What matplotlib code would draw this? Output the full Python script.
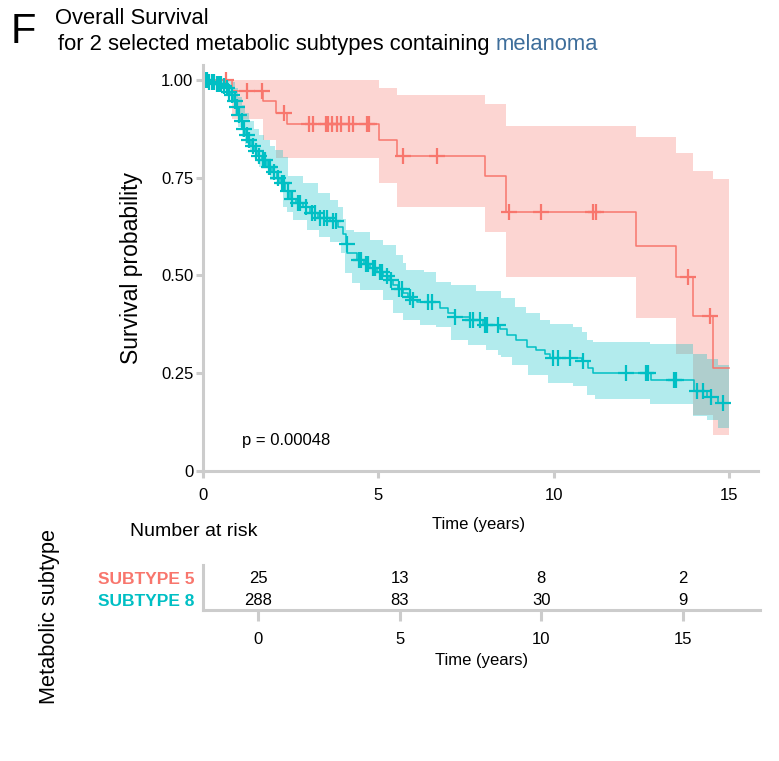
"""Kaplan-Meier curves for metabolic subtypes 5 and 8 (melanoma)"""

import numpy as np
import matplotlib

matplotlib.use("Agg")
import matplotlib.pyplot as plt

plt.rcParams["font.family"] = ["Liberation Sans", "DejaVu Sans"]

# ---- data ----
groups = ["SUBTYPE 5", "SUBTYPE 8"]
colors = ["#F8766D", "#00BFC4"]

# subtype 5: step curve (time in years, survival)
s5_time = [0, 0.82, 1.71, 2.08, 2.39, 5.02, 5.53, 8.05, 8.63, 12.34, 13.48, 13.98, 14.55, 15.0]
s5_surv = [1.0, 0.972, 0.945, 0.916, 0.887, 0.846, 0.806, 0.754, 0.661, 0.576, 0.497, 0.395, 0.263, 0.263]
s5_up_time = [0, 5.02, 5.53, 8.05, 8.63, 12.34, 13.48, 13.98, 14.55, 15.0]
s5_up = [1.0, 0.98, 0.962, 0.939, 0.881, 0.853, 0.813, 0.767, 0.747, 0.747]
s5_lo_time = [0, 0.82, 1.71, 2.08, 2.39, 5.02, 5.53, 8.05, 8.63, 12.34, 13.48, 13.98, 14.55, 15.0]
s5_lo = [1.0, 0.90, 0.845, 0.80, 0.80, 0.737, 0.675, 0.612, 0.497, 0.392, 0.30, 0.143, 0.092, 0.092]
s5_censor = [0.65, 1.25, 1.68, 2.31, 3.02, 3.14, 3.51, 3.56, 3.68, 3.82, 3.94, 4.16,
             4.28, 4.68, 4.73, 5.7, 6.67, 8.73, 9.64, 11.12, 11.2, 13.83, 14.46]

# subtype 8
s8_time = [0, 0.15, 0.35, 0.55, 0.63, 0.72, 0.8, 0.86, 0.93, 1.0, 1.07, 1.14, 1.21,
           1.28, 1.38, 1.48, 1.57, 1.67, 1.82, 1.96, 2.1, 2.2, 2.35, 2.48, 2.65, 2.85,
           3.05, 3.28, 3.62, 3.85, 4.0, 4.08, 4.12, 4.38, 4.6, 4.76, 4.95, 5.13, 5.3,
           5.42, 5.55, 5.7, 5.85, 5.95, 6.1, 6.76, 7.0, 7.19, 7.61, 7.98, 8.47, 8.66,
           8.94, 9.23, 9.51, 9.75, 9.89, 10.8, 10.98, 11.12, 12.79, 14.0, 14.36, 14.69, 15.0]
s8_surv = [1.0, 0.995, 0.99, 0.985, 0.98, 0.97, 0.962, 0.945, 0.93, 0.91, 0.895, 0.875,
           0.86, 0.845, 0.83, 0.817, 0.805, 0.795, 0.778, 0.765, 0.75, 0.736, 0.715,
           0.695, 0.685, 0.676, 0.66, 0.647, 0.64, 0.625, 0.605, 0.58, 0.557, 0.54,
           0.53, 0.52, 0.51, 0.499, 0.488, 0.476, 0.465, 0.455, 0.445, 0.437, 0.433,
           0.417, 0.405, 0.394, 0.386, 0.373, 0.363, 0.348, 0.335, 0.318, 0.309, 0.298,
           0.288, 0.280, 0.263, 0.25, 0.233, 0.205, 0.19, 0.174, 0.174]
s8_up_time = [0, 0.8, 0.9, 1.0, 1.1, 1.2, 1.3, 1.45, 1.6, 1.75, 1.9, 2.05, 2.28, 2.42,
              2.85, 3.28, 3.62, 3.85, 4.0, 4.08, 4.3, 4.76, 5.14, 5.5, 5.7, 5.8, 6.3,
              6.65, 7.07, 7.8, 8.5, 8.9, 9.2, 9.6, 9.89, 10.56, 10.8, 10.95, 11.12,
              12.75, 13.98, 14.36, 14.69, 15.0]
s8_up = [1.0, 0.995, 0.98, 0.955, 0.935, 0.915, 0.895, 0.875, 0.86, 0.845, 0.83, 0.82,
         0.804, 0.753, 0.736, 0.711, 0.693, 0.676, 0.645, 0.616, 0.612, 0.591, 0.578,
         0.552, 0.532, 0.514, 0.51, 0.484, 0.476, 0.459, 0.442, 0.42, 0.403, 0.386,
         0.376, 0.368, 0.356, 0.335, 0.33, 0.325, 0.299, 0.286, 0.271, 0.271]
s8_lo_time = [0, 0.5, 0.7, 0.8, 0.9, 1.0, 1.1, 1.2, 1.34, 1.6, 1.9, 2.28, 2.4, 2.56,
              2.97, 3.3, 3.62, 3.94, 4.05, 4.25, 4.48, 5.14, 5.42, 5.7, 6.2, 6.65, 7.07,
              7.55, 8.07, 8.4, 8.5, 8.8, 9.27, 9.84, 10.56, 10.95, 11.18, 12.75, 13.98,
              14.36, 14.69, 15.0]
s8_lo = [1.0, 0.985, 0.96, 0.94, 0.91, 0.88, 0.855, 0.835, 0.815, 0.778, 0.744, 0.676,
         0.663, 0.642, 0.616, 0.599, 0.586, 0.557, 0.506, 0.481, 0.463, 0.437, 0.404,
         0.386, 0.373, 0.369, 0.335, 0.322, 0.309, 0.297, 0.292, 0.271, 0.246, 0.226,
         0.216, 0.194, 0.185, 0.171, 0.141, 0.13, 0.109, 0.109]
s8_censor = [0.05, 0.1, 0.18, 0.25, 0.3, 0.4, 0.45, 0.5, 0.6, 0.68, 0.75, 0.83, 0.9,
             0.97, 1.03, 1.1, 1.17, 1.25, 1.32, 1.42, 1.52, 1.6, 1.7, 1.78, 1.87, 1.92,
             2.02, 2.15, 2.25, 2.3, 2.42, 2.55, 2.7, 2.78, 2.95, 3.12, 3.2, 3.35, 3.45,
             3.55, 3.7, 3.78, 4.1, 4.45, 4.5, 4.65, 4.7, 4.85, 4.9, 5.05, 5.1, 5.25,
             5.35, 5.6, 5.67, 5.9, 6.0, 6.42, 6.52, 7.19, 7.61, 7.7, 7.9, 8.04, 8.09,
             8.4, 9.98, 10.12, 10.46, 10.84, 12.06, 12.63, 12.69, 13.43, 13.49, 14.1,
             14.25, 14.5, 14.83]

risk_times = [0, 5, 10, 15]
risk_s5 = [25, 13, 8, 2]
risk_s8 = [288, 83, 30, 9]
p_value = "p = 0.00048"

GRID = "#CCCCCC"


def at_time(times, values, t):
    """step function value at time t"""
    idx = np.searchsorted(times, t, side="right") - 1
    return np.asarray(values)[idx]


def style_axis(ax):
    for side in ["top", "right"]:
        ax.spines[side].set_visible(False)
    for side in ["left", "bottom"]:
        ax.spines[side].set_color(GRID)
        ax.spines[side].set_linewidth(2.2)
    ax.tick_params(color=GRID, width=2.2, length=5, labelsize=12, pad=4)


fig = plt.figure(figsize=(7.79, 7.61), dpi=100)

# ---- survival curves ----
ax = fig.add_axes([0.2606, 0.3811, 0.7125, 0.5335])
style_axis(ax)
ax.tick_params(axis="x", pad=7)
ax.tick_params(axis="y", pad=2)

curves = [
    (s5_time, s5_surv, s5_up_time, s5_up, s5_lo_time, s5_lo, s5_censor),
    (s8_time, s8_surv, s8_up_time, s8_up, s8_lo_time, s8_lo, s8_censor),
]
for (t, s, ut, u, lt, lo, cens), col in zip(curves, colors):
    grid_t = np.unique(np.concatenate([ut, lt]))
    ax.fill_between(grid_t, at_time(ut, u, grid_t), at_time(lt, lo, grid_t),
                    step="post", color=col, alpha=0.3, linewidth=0)
for (t, s, ut, u, lt, lo, cens), col in zip(curves, colors):
    ax.step(t, s, where="post", color=col, linewidth=1.1)
    cens = np.asarray(cens)
    ax.plot(cens, at_time(t, s, cens), linestyle="none", marker="+",
            markersize=11, markeredgewidth=1.6, color=col)

ax.set_xlim(0, 15.83)
ax.set_ylim(0, 1.038)
ax.set_xticks([0, 5, 10, 15])
ax.set_yticks([0, 0.25, 0.5, 0.75, 1.0])
ax.set_yticklabels(["0", "0.25", "0.50", "0.75", "1.00"])
ax.set_xlabel("Time (years)", fontsize=12)
ax.xaxis.set_label_coords(0.496, -0.113)
ax.set_ylabel("Survival probability", fontsize=16.5)
ax.yaxis.set_label_coords(-0.109, 0.5)
ax.text(1.11, 0.079, p_value, fontsize=12, va="center")

# ---- risk table ----
rt = fig.add_axes([0.2606, 0.1984, 0.7150, 0.0591])
style_axis(rt)
rt.set_xlim(-1.94, 17.72)
rt.set_ylim(-0.45, 1.59)
rt.set_xticks(risk_times)
rt.tick_params(axis="x", length=8, pad=8)
rt.set_yticks([1, 0])
rt.set_yticklabels(groups, fontweight="bold", fontsize=12.5)
rt.tick_params(axis="y", length=0, pad=6)
for lab, col in zip(rt.get_yticklabels(), colors):
    lab.set_color(col)
for x, a, b in zip(risk_times, risk_s5, risk_s8):
    rt.text(x, 1, str(a), ha="center", va="center", fontsize=12)
    rt.text(x, 0, str(b), ha="center", va="center", fontsize=12)
rt.set_xlabel("Time (years)", fontsize=12, labelpad=4)

fig.text(0.167, 0.301, "Number at risk", fontsize=14, va="center")
fig.text(0.063, 0.190, "Metabolic subtype", fontsize=15.7, rotation=90,
         ha="center", va="center")

# ---- titles ----
fig.text(0.014, 0.958, "F", fontsize=30, va="center")
fig.text(0.070, 0.976, "Overall Survival", fontsize=15.8, va="center")
t1 = fig.text(0.075, 0.942, "for 2 selected metabolic subtypes containing ",
              fontsize=15.8, va="center")
fig.canvas.draw()
bb = t1.get_window_extent()
x_end = bb.x1 / fig.bbox.width
fig.text(x_end, 0.942, "melanoma", fontsize=15.8, va="center", color="#3E6E9B")

fig.savefig("out.png", dpi=100)
